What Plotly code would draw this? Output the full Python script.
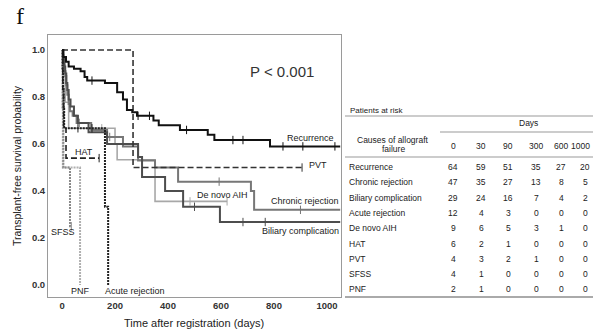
import plotly.graph_objects as go

# ---------------- data ----------------
recurrence_t = [0, 5, 15, 25, 45, 70, 85, 95, 162, 208, 230, 245, 265, 283, 345, 365, 445, 550, 575, 785, 1050]
recurrence_s = [1.0, 0.97, 0.95, 0.93, 0.92, 0.91, 0.885, 0.87, 0.86, 0.82, 0.79, 0.745, 0.735, 0.72, 0.70, 0.68, 0.66, 0.64, 0.617, 0.59, 0.59]
recurrence_c = [113, 287, 330, 470, 645, 683, 834, 909, 1030]

chronic_t = [0, 3, 5, 8, 10, 13, 16, 20, 25, 30, 40, 55, 110, 170, 230, 287, 351, 438, 713, 725, 1050]
chronic_s = [1.0, 0.98, 0.96, 0.94, 0.91, 0.89, 0.85, 0.81, 0.77, 0.74, 0.72, 0.69, 0.66, 0.63, 0.59, 0.53, 0.50, 0.44, 0.40, 0.32, 0.32]
chronic_c = [65, 180, 593, 900]

biliary_t = [0, 4, 8, 12, 16, 20, 25, 32, 45, 60, 100, 170, 287, 302, 389, 457, 596, 1050]
biliary_s = [1.0, 0.97, 0.93, 0.90, 0.86, 0.83, 0.79, 0.76, 0.72, 0.69, 0.65, 0.60, 0.545, 0.46, 0.40, 0.333, 0.268, 0.268]
biliary_c = [500, 683, 767]

aih_t = [0, 5, 12, 25, 200, 208, 351, 623]
aih_s = [1.0, 0.889, 0.778, 0.667, 0.60, 0.533, 0.356, 0.356]
aih_c = [150, 483, 623]

acute_t = [0, 2, 4, 6, 8, 162, 174]
acute_s = [1.0, 0.917, 0.833, 0.75, 0.667, 0.333, 0.0]
acute_c = [60, 113]

hat_t = [0, 3, 6, 15, 140]
hat_s = [1.0, 0.833, 0.667, 0.54, 0.54]
hat_c = [140]

pvt_t = [0, 268, 906]
pvt_s = [1.0, 0.5, 0.5]
pvt_c = [906]

sfss_t = [0, 2, 5, 30, 35]
sfss_s = [1.0, 0.75, 0.5, 0.25, 0.25]
sfss_c = [35]

pnf_t = [0, 3, 68]
pnf_s = [1.0, 0.5, 0.0]

x_ticks = [0, 200, 400, 600, 800, 1000]
y_ticks = [0.0, 0.2, 0.4, 0.6, 0.8, 1.0]

table_days = ["0", "30", "90", "300", "600", "1000"]
table_causes = ["Recurrence", "Chronic rejection", "Biliary complication", "Acute rejection",
                "De novo AIH", "HAT", "PVT", "SFSS", "PNF"]
at_risk = [
    [64, 59, 51, 35, 27, 20],
    [47, 35, 27, 13, 8, 5],
    [29, 24, 16, 7, 4, 2],
    [12, 4, 3, 0, 0, 0],
    [9, 6, 5, 3, 1, 0],
    [6, 2, 1, 0, 0, 0],
    [4, 3, 2, 1, 0, 0],
    [4, 1, 0, 0, 0, 0],
    [2, 1, 0, 0, 0, 0],
]

# ---------------- figure ----------------
W, H = 593, 331
FONT = "Liberation Sans, Arial, sans-serif"


def P(px, py):
    return px / W, 1 - py / H


def step_value(ts, ss, t):
    v = ss[0]
    for ti, si in zip(ts, ss):
        if ti <= t:
            v = si
    return v


fig = go.Figure()

series = [
    (pnf_t, pnf_s, [], dict(color="#b0b0b0", width=2, dash="2px,1px")),
    (sfss_t, sfss_s, sfss_c, dict(color="#8a8a8a", width=2, dash="2px,1px")),
    (aih_t, aih_s, aih_c, dict(color="#a8a8a8", width=1.6)),
    (chronic_t, chronic_s, chronic_c, dict(color="#777777", width=2)),
    (biliary_t, biliary_s, biliary_c, dict(color="#4d4d4d", width=2)),
    (hat_t, hat_s, hat_c, dict(color="#222222", width=1.6, dash="6px,3px")),
    (acute_t, acute_s, acute_c, dict(color="#222222", width=2, dash="2px,1px")),
    (pvt_t, pvt_s, pvt_c, dict(color="#333333", width=1.6, dash="6px,3px")),
    (recurrence_t, recurrence_s, recurrence_c, dict(color="#111111", width=2)),
]

for ts, ss, cs, ln in series:
    fig.add_trace(go.Scatter(x=ts, y=ss, mode="lines", line=dict(shape="hv", **ln),
                             hoverinfo="skip", showlegend=False))
    if cs:
        fig.add_trace(go.Scatter(
            x=cs, y=[step_value(ts, ss, c) for c in cs], mode="markers",
            marker=dict(symbol="line-ns", size=6, line=dict(width=1, color=ln["color"])),
            hoverinfo="skip", showlegend=False))

ann = []


def text(px, py, s, size=9, anchor="center", color="#222", fam=FONT, **kw):
    x, y = P(px, py)
    ann.append(dict(x=x, y=y, xref="paper", yref="paper", text=s, showarrow=False,
                    xanchor=anchor, yanchor="middle",
                    font=dict(family=fam, size=size, color=color), **kw))


# curve labels
text(310, 138, "Recurrence")
text(307, 165, "PVT", anchor="left")
text(305, 201, "Chronic rejection")
text(222, 195, "De novo AIH")
text(300, 231, "Biliary complication")
text(84, 152, "HAT")
text(63, 232, "SFSS")
text(80, 291, "PNF")
text(135, 291, "Acute rejection")
text(282, 72, "P < 0.001", size=15, color="#333")
text(20, 16, "f", size=24, color="#111", fam="Liberation Serif, Times New Roman, serif")

# axis titles
text(194, 323, "Time after registration (days)", size=11, color="#222")
x, y = P(17, 166)
ann.append(dict(x=x, y=y, xref="paper", yref="paper", text="Transplant-free survival probability",
                showarrow=False, textangle=-90, xanchor="center", yanchor="middle",
                font=dict(family=FONT, size=10.5, color="#222")))

# table
text(348, 110, "Patients at risk", size=8, anchor="left")
text(528, 123, "Days", size=8.5)
text(393, 140, "Causes of allograft", size=8.5)
text(393, 149, "failure", size=8.5)
col_x = [453, 481, 508, 536, 561, 585]
for cx, d in zip(col_x, table_days):
    if d == "1000":
        text(592, 146, d, size=8.5, anchor="right")
    else:
        text(cx, 146, d, size=8.5)
row_y0, row_dy = 167, 15.3
for i, (name, vals) in enumerate(zip(table_causes, at_risk)):
    ry = row_y0 + i * row_dy
    text(347, ry, name, size=8.5, anchor="left")
    for cx, v in zip(col_x, vals):
        text(cx, ry, str(v), size=8.5)

shapes = []


def hline(x0, x1, py, color="#999", width=1):
    _, y = P(0, py)
    shapes.append(dict(type="line", xref="paper", yref="paper", x0=x0 / W, x1=x1 / W,
                       y0=y, y1=y, line=dict(color=color, width=width)))


hline(345, 593, 116)
hline(440, 593, 132)
hline(345, 593, 157)
hline(345, 593, 297, color="#aaa", width=2)

axis_common = dict(showgrid=False, zeroline=False, showline=True, mirror=True,
                   linecolor="#9a9a9a", linewidth=1, ticks="",
                   tickfont=dict(family=FONT, size=9.5, color="#333", weight="bold"))

fig.update_layout(
    width=W, height=H,
    margin=dict(l=0, r=0, t=0, b=0, autoexpand=False),
    paper_bgcolor="white", plot_bgcolor="white",
    xaxis=dict(domain=[48 / W, 341 / W], range=[-53, 1053], tickvals=x_ticks,
               ticktext=[str(v) for v in x_ticks], **axis_common),
    yaxis=dict(domain=[1 - 297 / H, 1 - 35 / H], range=[-0.051, 1.064], tickvals=y_ticks,
               ticktext=[f"{v:.1f}" for v in y_ticks], **axis_common),
    annotations=ann,
    shapes=shapes,
)

fig.write_html("out.html", config={"displayModeBar": False},
               post_script="document.body.style.margin='0';document.body.style.overflow='hidden';")
